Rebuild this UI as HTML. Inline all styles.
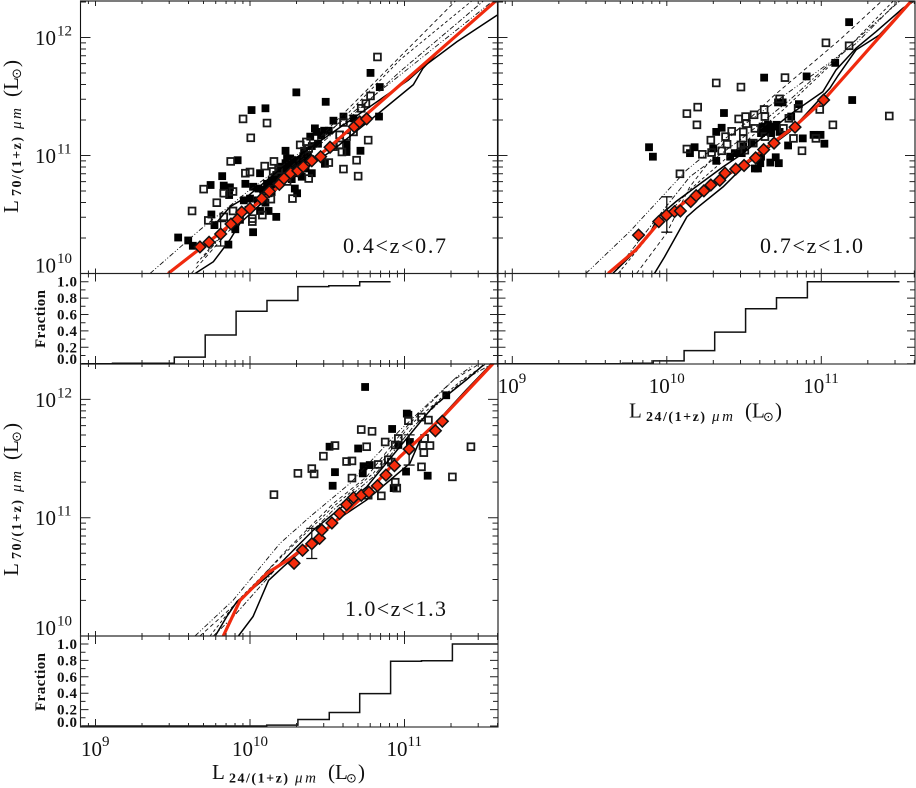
<!DOCTYPE html>
<html lang="en">
<head>
<meta charset="utf-8">
<title>L70 vs L24 by redshift</title>
<style>
html,body{margin:0;padding:0;background:#fff;}
svg{display:block;}
text{font-family:"Liberation Serif","DejaVu Serif",serif;fill:#111;}
.sun{font-family:"DejaVu Sans","Liberation Sans",sans-serif;}
.frac{font-weight:bold;font-size:15px;}
</style>
</head>
<body>
<svg id="chart" xmlns="http://www.w3.org/2000/svg" width="916" height="788" viewBox="0 0 916 788">
  <defs>
    <clipPath id="clip-a"><rect x="80.5" y="1" width="417.5" height="272.5"/></clipPath>
    <clipPath id="clip-b"><rect x="497.5" y="1" width="417.5" height="272.5"/></clipPath>
    <clipPath id="clip-c"><rect x="80.5" y="364" width="417.5" height="272"/></clipPath>
  </defs>
  <g id="layer"></g>

  <g transform="translate(18,213) rotate(-90)">
    <text font-size="21" x="0" y="0">L</text>
    <text font-size="14" font-weight="bold" x="17" y="3" textLength="59" lengthAdjust="spacing">70/(1+z)</text>
    <text font-size="15" font-style="italic" x="84" y="3" textLength="21" lengthAdjust="spacing">μm</text>
    <text font-size="21" x="116" y="0">(L</text>
    <text class="sun" font-size="13" x="134" y="3">⊙</text>
    <text font-size="21" x="146" y="0">)</text>
  </g>
  <g transform="translate(18,576) rotate(-90)">
    <text font-size="21" x="0" y="0">L</text>
    <text font-size="14" font-weight="bold" x="17" y="3" textLength="59" lengthAdjust="spacing">70/(1+z)</text>
    <text font-size="15" font-style="italic" x="84" y="3" textLength="21" lengthAdjust="spacing">μm</text>
    <text font-size="21" x="116" y="0">(L</text>
    <text class="sun" font-size="13" x="134" y="3">⊙</text>
    <text font-size="21" x="146" y="0">)</text>
  </g>
  <g transform="translate(212,779)">
    <text font-size="21" x="0" y="0">L</text>
    <text font-size="14" font-weight="bold" x="17" y="3.5" textLength="59" lengthAdjust="spacing">24/(1+z)</text>
    <text font-size="15" font-style="italic" x="83" y="3.5" textLength="21" lengthAdjust="spacing">μm</text>
    <text font-size="21" x="116" y="0">(L</text>
    <text class="sun" font-size="13" x="134" y="3.5">⊙</text>
    <text font-size="21" x="146" y="0">)</text>
  </g>
  <g transform="translate(629,417.5)">
    <text font-size="21" x="0" y="0">L</text>
    <text font-size="14" font-weight="bold" x="17" y="3.5" textLength="59" lengthAdjust="spacing">24/(1+z)</text>
    <text font-size="15" font-style="italic" x="83" y="3.5" textLength="21" lengthAdjust="spacing">μm</text>
    <text font-size="21" x="116" y="0">(L</text>
    <text class="sun" font-size="13" x="134" y="3.5">⊙</text>
    <text font-size="21" x="146" y="0">)</text>
  </g>

  <text font-size="22" x="343" y="253" textLength="103" lengthAdjust="spacing">0.4&lt;z&lt;0.7</text>
  <text font-size="22" x="760" y="253" textLength="103" lengthAdjust="spacing">0.7&lt;z&lt;1.0</text>
  <text font-size="22" x="345" y="616" textLength="101" lengthAdjust="spacing">1.0&lt;z&lt;1.3</text>

  <text class="frac" text-anchor="middle" textLength="58" transform="translate(45,319) rotate(-90)">Fraction</text>
  <text class="frac" text-anchor="middle" textLength="58" transform="translate(45,682) rotate(-90)">Fraction</text>
</svg>

<script>
// All values are log10 of luminosity (Lsun) or plain fraction.
const xMajorLabels = [9, 10, 11];
const yMajorLabels = [10, 11, 12];
const fractionLabels = ['0.0', '0.2', '0.4', '0.6', '0.8', '1.0'];
const fractionTicks = [0, 0.2, 0.4, 0.6, 0.8, 1.0];

// ---- Panel A: 0.4<z<0.7 ----
const aFilledX = [10.30,10.49,10.10,10.01,10.78,10.84,10.54,10.835,9.92,9.82,9.745,9.535,9.60,9.63,9.86,10.02,10.17,9.75,9.77,9.905,9.83,9.865,9.87,9.97,10.065,10.23,10.23,10.42,10.48,10.51,10.605,10.67,10.715,10.625,10.625,10.485,10.305,10.29,10.065,10.12,9.96,10.00,10.02,10.055,10.11,10.14,10.17,10.26,10.31,10.345,10.375,10.40,10.335,10.28,10.30,10.24,10.205,10.225,10.26,10.32,10.365,10.39,10.43,10.15,10.085,10.14,9.99,9.935,9.90,10.18,10.22,10.27,10.30,10.33,10.36,10.12,10.05,10.10,10.28,10.20,10.39,10.44,10.46,10.40,10.35,10.25];
const aFilledY = [11.535,11.455,11.40,11.385,11.70,11.58,11.295,11.33,10.96,10.825,10.75,10.305,10.28,10.235,10.245,10.35,10.48,10.50,10.41,10.375,10.745,10.665,10.73,10.76,10.85,11.04,10.935,11.23,11.21,11.21,11.33,11.315,11.04,11.03,11.09,10.93,10.68,10.72,10.53,10.53,10.62,10.635,10.735,10.72,10.76,10.79,10.835,10.91,10.935,10.99,11.005,10.85,10.82,10.85,10.96,10.975,10.905,10.875,10.975,10.905,10.935,11.16,11.20,10.735,10.71,10.69,10.54,10.455,10.425,10.80,10.83,10.80,10.88,10.93,10.89,10.68,10.62,10.60,10.92,10.87,10.97,11.10,11.17,11.08,11.04,10.96];
const aOpenX = [10.825,10.72,10.78,10.75,9.955,10.11,10.005,9.875,10.00,9.97,10.095,10.155,10.765,10.69,10.70,10.605,10.38,10.275,10.135,10.08,10.015,10.015,9.89,9.83,9.785,9.70,9.625,9.73,9.83,9.89,10.605,10.58,10.595,10.51,10.58,10.625,10.67,10.325,10.365,10.38,10.54,10.15,10.185,10.24];
const aOpenY = [11.835,11.40,11.505,11.44,11.31,11.275,11.15,10.95,10.86,10.85,10.91,10.95,11.13,10.96,10.825,10.885,10.805,10.635,10.63,10.495,10.44,10.465,10.695,10.68,10.60,10.715,10.53,10.45,10.48,10.53,11.28,11.09,11.03,10.94,11.175,11.16,11.20,11.09,11.115,11.06,11.075,10.865,10.88,10.78];
const aMeanX = [9.676,9.735,9.81,9.877,9.92,9.946,10.00,10.076,10.125,10.19,10.22,10.263,10.31,10.345,10.40,10.457,10.518,10.675,10.71,10.755];
const aMeanY = [10.225,10.265,10.335,10.42,10.46,10.52,10.55,10.635,10.695,10.755,10.805,10.85,10.87,10.905,10.955,10.99,11.07,11.245,11.285,11.31];
const aFitX = [9.47,9.676,10.0,10.518,10.755,11.10,11.60];
const aFitY = [10.0,10.21,10.545,11.075,11.35,11.745,12.32];
const aUpperX = [9.763,9.87,9.98,10.215,10.54,11.025,11.11,11.34,11.60];
const aUpperY = [10.40,10.565,10.65,10.905,11.20,11.64,11.74,11.965,12.19];
const aLowerX = [9.645,9.763,9.87,9.935,10.215,10.54,10.82,11.057,11.12,11.25,11.40,11.60];
const aLowerY = [10.0,10.10,10.285,10.425,10.765,11.05,11.345,11.60,11.74,11.92,12.09,12.32];
const aModel1X = [9.353,9.676,10.0,10.54,10.97,11.553];
const aModel1Y = [10.0,10.37,10.71,11.235,11.68,12.29];
const aModel2X = [9.62,9.89,10.54,11.338];
const aModel2Y = [10.0,10.40,11.27,12.32];
const aModel3X = [9.655,9.935,10.54,10.97,11.445];
const aModel3Y = [10.085,10.51,11.23,11.81,12.32];
const aModel4X = [9.70,9.98,10.54,10.97,11.52];
const aModel4Y = [10.14,10.57,11.19,11.71,12.32];
const aErrX = [9.81];
const aErrLo = [10.233];
const aErrHi = [10.44];
const aBinEdges = [8.91,9.11,9.51,9.71,9.91,10.11,10.31,10.51,10.71,10.91];
const aFractions = [0,0.005,0.08,0.35,0.64,0.77,0.94,0.95,1.0];

// ---- Panel B: 0.7<z<1.0 ----
const bFilledX = [11.18,11.09,10.905,10.63,11.20,10.37,10.72,10.75,10.855,9.885,9.91,10.15,10.18,10.32,10.355,10.32,11.02,10.995,10.95,10.88,10.785,10.705,10.725,10.67,10.57,10.59,10.605,10.61,10.41,10.44,10.30,10.62,10.655,10.69,10.71,10.675,10.645,10.495,10.55,10.61,10.485,10.73,10.805];
const bFilledY = [12.13,11.785,11.67,11.66,11.47,11.36,11.45,11.45,11.435,11.07,10.99,11.02,11.07,10.955,11.235,11.20,11.10,11.175,11.175,11.145,11.085,10.985,10.935,10.94,10.89,10.89,10.935,10.99,10.99,11.02,11.06,11.245,11.26,11.245,11.26,11.19,11.20,11.075,11.105,11.19,11.02,11.20,11.33];
const bOpenX = [11.03,11.18,10.765,10.32,10.48,10.73,10.20,10.13,10.195,10.465,10.51,10.565,10.63,10.635,10.99,11.44,11.075,10.79,10.42,10.285,10.38,10.39,10.13,10.23,10.29,10.355,10.085,10.875,10.965,10.82,10.495,10.495,10.48,10.57,10.515,10.635,10.755,10.85,10.56,10.505];
const bOpenY = [11.955,11.93,11.66,11.615,11.58,11.48,11.41,11.355,11.26,11.31,11.33,11.345,11.39,11.33,11.39,11.335,11.26,11.315,11.205,11.13,11.16,11.095,11.055,11.01,11.025,11.04,10.845,11.04,11.145,11.145,11.20,11.145,11.09,11.23,11.27,11.16,11.23,11.40,11.105,11.045];
const bMeanX = [9.817,9.948,9.998,10.05,10.088,10.155,10.19,10.24,10.285,10.343,10.377,10.446,10.50,10.575,10.627,10.694,10.83,11.015];
const bMeanY = [10.325,10.44,10.495,10.525,10.53,10.61,10.66,10.70,10.75,10.79,10.85,10.885,10.915,10.98,11.05,11.105,11.24,11.47];
const bFitX = [9.62,9.80,9.955,10.15,10.495,10.84,11.015,11.59];
const bFitY = [10.0,10.20,10.44,10.64,10.92,11.26,11.47,12.32];
const bUpperX = [9.65,9.805,9.89,9.945,10.06,10.365,10.495,10.795,11.01,11.095,11.225,11.355,11.53,11.59];
const bUpperY = [10.0,10.2,10.34,10.48,10.61,10.905,11.02,11.345,11.54,11.725,11.91,12.05,12.25,12.30];
const bLowerX = [9.92,9.985,10.13,10.19,10.365,10.495,10.795,11.055,11.11,11.225,11.375,11.59];
const bLowerY = [10.0,10.14,10.48,10.55,10.735,10.905,11.20,11.57,11.68,11.895,12.02,12.32];
const bModel1X = [9.476,9.76,10.127,10.364,10.687,11.226,11.506];
const bModel1Y = [10.0,10.355,10.875,11.13,11.44,11.95,12.32];
const bModel2X = [9.804,9.998,10.149,10.364,10.687,11.119,11.40];
const bModel2Y = [10.0,10.34,10.735,11.10,11.50,11.98,12.32];
const bModel3X = [9.685,9.933,10.149,10.472,10.752,11.119,11.474];
const bModel3Y = [10.0,10.395,10.71,11.075,11.385,11.84,12.32];
const bModel4X = [9.653,9.825,10.149,10.472,10.795,11.226,11.517];
const bModel4Y = [10.0,10.285,10.82,11.13,11.47,11.98,12.32];
const bErrX = [10.0];
const bErrLo = [10.35];
const bErrHi = [10.65];
const bBinEdges = [8.91,9.713,9.912,10.112,10.31,10.51,10.71,10.91,11.506];
const bFractions = [0,0.005,0.035,0.16,0.385,0.67,0.805,1.0];

// ---- Panel C: 1.0<z<1.3 ----
const cFilledX = [10.745,11.27,11.015,11.025,10.92,10.515,10.70,10.55,10.535,10.735,10.73,10.775,10.96,11.035,11.01,11.15,10.93];
const cFilledY = [12.105,12.035,11.88,11.87,11.75,11.60,11.585,11.385,11.27,11.435,11.375,11.445,11.615,11.64,11.39,11.355,11.25];
const cOpenX = [10.155,10.31,10.40,10.415,10.475,10.55,10.72,10.79,10.755,10.625,10.66,10.66,10.83,10.875,10.895,10.915,10.94,10.96,11.025,11.11,11.155,11.13,11.12,11.165,11.125,11.11,11.43,11.31,10.94,10.95,10.85,10.765];
const cOpenY = [11.195,11.375,11.415,11.37,11.52,11.61,11.745,11.73,11.60,11.475,11.48,11.335,11.45,11.64,11.49,11.47,11.615,11.67,11.82,11.85,11.825,11.67,11.61,11.61,11.55,11.43,11.60,11.345,11.30,11.25,11.185,11.19];
const cMeanX = [10.285,10.34,10.40,10.45,10.465,10.53,10.58,10.625,10.67,10.72,10.77,10.825,10.88,10.935,11.03,11.20,11.245];
const cMeanY = [10.615,10.725,10.78,10.825,10.895,10.955,11.035,11.11,11.17,11.19,11.215,11.27,11.36,11.44,11.58,11.735,11.815];
const cFitX = [9.827,9.935,10.11,10.26,10.455,10.755,10.97,11.25,11.575];
const cFitY = [10.0,10.30,10.53,10.655,10.855,11.205,11.515,11.855,12.305];
const cUpperX = [9.775,9.85,9.915,10.11,10.41,10.755,10.97,11.185,11.40,11.51];
const cUpperY = [10.0,10.165,10.29,10.50,10.895,11.26,11.60,11.94,12.165,12.29];
const cLowerX = [9.925,10.02,10.12,10.215,10.56,10.755,11.035,11.10,11.21,11.40,11.565];
const cLowerY = [10.0,10.165,10.47,10.585,10.98,11.15,11.46,11.655,11.81,12.08,12.305];
const cModel1X = [9.644,9.892,10.194,10.388,10.647,10.971,11.338,11.445];
const cModel1Y = [10.0,10.304,10.783,11.008,11.29,11.74,12.19,12.29];
const cModel2X = [9.676,9.935,10.237,10.539,10.755,11.014,11.316,11.489];
const cModel2Y = [10.0,10.304,10.727,11.12,11.346,11.77,12.163,12.304];
const cModel3X = [9.741,9.924,10.237,10.539,10.798,11.036,11.359,11.532];
const cModel3Y = [10.0,10.304,10.713,11.093,11.375,11.783,12.15,12.304];
const cModel4X = [9.763,9.892,10.237,10.539,10.798,11.057,11.38,11.553];
const cModel4Y = [10.0,10.163,10.67,11.065,11.346,11.77,12.163,12.29];
const cErrX = [10.40,11.03];
const cErrLo = [10.655,11.445];
const cErrHi = [10.91,11.70];
const cBinEdges = [8.91,10.108,10.31,10.513,10.71,10.91,11.11,11.31,11.605];
const cFractions = [0,0.01,0.08,0.165,0.395,0.79,0.795,1.0];

const SVGNS = 'http://www.w3.org/2000/svg';
const layer = document.getElementById('layer');

function make(parent, tag, attrs) {
  const node = document.createElementNS(SVGNS, tag);
  for (const k in attrs) node.setAttribute(k, attrs[k]);
  parent.appendChild(node);
  return node;
}

function buildPanel(p) {
  const xs = v => p.x9 + (v - 9) * 154.5;
  const ys = v => p.mainBottom - (v - 10) * p.decade;
  const fs = v => p.frac0 - v * 82;
  const pathOf = (xa, ya) => xa.map((v, i) => (i ? 'L' : 'M') + xs(v).toFixed(2) + ' ' + ys(ya[i]).toFixed(2)).join(' ');

  const group = make(layer, 'g', {});
  
  

  const plot = make(group, 'g', { 'clip-path': 'url(#' + p.clip + ')' });
  
  

  p.filledX.forEach((v, i) => {
    const m = make(plot, 'rect', { x: xs(v) - 3.9, y: ys(p.filledY[i]) - 3.9, width: 7.8, height: 7.8, fill: '#000' });
    
    
  });
  p.openX.forEach((v, i) => {
    const m = make(plot, 'rect', { x: xs(v) - 3.4, y: ys(p.openY[i]) - 3.4, width: 6.8, height: 6.8, fill: 'none', stroke: '#1a1a1a', 'stroke-width': 1.8 });
    
    
  });

  const dashes = ['5 2 1 2 1 2', '4 3', '3 2.5', '5 2 1.5 2'];
  p.models.forEach((mdl, i) => {
    const l = make(plot, 'path', { d: pathOf(mdl[0], mdl[1]), fill: 'none', stroke: '#111', 'stroke-width': 0.9, 'stroke-dasharray': dashes[i] });
    
    
  });

  const up = make(plot, 'path', { d: pathOf(p.upperX, p.upperY), fill: 'none', stroke: '#000', 'stroke-width': 1.5 });
  
  
  const lo = make(plot, 'path', { d: pathOf(p.lowerX, p.lowerY), fill: 'none', stroke: '#000', 'stroke-width': 1.5 });
  
  

  const fit = make(plot, 'path', { d: pathOf(p.fitX, p.fitY), fill: 'none', stroke: '#f02a0e', 'stroke-width': 3.2 });
  
  

  p.errX.forEach((v, i) => {
    const x = xs(v), a = ys(p.errLo[i]), b = ys(p.errHi[i]);
    const e = make(plot, 'path', { d: `M${x - 5.5} ${a}H${x + 5.5}M${x} ${a}V${b}M${x - 5.5} ${b}H${x + 5.5}`, fill: 'none', stroke: '#111', 'stroke-width': 1.3 });
    
    
  });

  p.meanX.forEach((v, i) => {
    const x = xs(v), y = ys(p.meanY[i]), r = 5.8;
    const d = make(plot, 'path', { d: `M${x - r} ${y}L${x} ${y - r}L${x + r} ${y}L${x} ${y + r}Z`, fill: '#f52c0c', stroke: '#111', 'stroke-width': 1.5 });
    
    
  });

  // Fraction histogram
  let hist = '';
  p.fractions.forEach((f, i) => {
    hist += (i ? 'L' : 'M') + xs(p.edges[i]).toFixed(2) + ' ' + fs(f).toFixed(2) + 'L' + xs(p.edges[i + 1]).toFixed(2) + ' ' + fs(f).toFixed(2);
  });
  const h = make(group, 'path', { d: hist, fill: 'none', stroke: '#111', 'stroke-width': 1.5 });
  
  

  // Frames
  const mainFrame = make(group, 'rect', { x: p.left, y: p.mainTop, width: p.right - p.left, height: p.mainBottom - p.mainTop, fill: 'none', stroke: '#111', 'stroke-width': 1.1 });
  
  
  const fracFrame = make(group, 'rect', { x: p.left, y: p.mainBottom, width: p.right - p.left, height: p.fracBottom - p.mainBottom, fill: 'none', stroke: '#222', 'stroke-width': 1.1 });
  
  

  // Ticks
  let tick = '';
  const minL = 8.9, maxL = 11.61;
  for (let d = 8; d <= 11; d++) {
    for (let m = 1; m <= 9; m++) {
      const lv = d + Math.log10(m);
      if (lv < minL || lv > maxL) continue;
      const x = xs(lv).toFixed(2);
      const mj = m === 1;
      const a = mj ? 5 : 3, b = mj ? 8 : 4;
      tick += `M${x} ${p.mainTop}v${a}M${x} ${p.mainBottom}v${-a}M${x} ${p.mainBottom}v${b}M${x} ${p.fracBottom}v${-b}`;
    }
  }
  for (let d = 10; d <= 12; d++) {
    for (let m = 1; m <= 9; m++) {
      const lv = d + Math.log10(m);
      const y = ys(lv);
      if (y < p.mainTop || y > p.mainBottom) continue;
      const l = m === 1 ? 10 : 5.5;
      tick += `M${p.left} ${y.toFixed(2)}h${l}M${p.right} ${y.toFixed(2)}h${-l}`;
    }
  }
  for (let k = 0; k <= 10; k++) {
    const y = fs(k / 10).toFixed(2);
    const l = k % 2 === 0 ? 8 : 5;
    tick += `M${p.left} ${y}h${l}M${p.right} ${y}h${-l}`;
  }
  const t = make(group, 'path', { d: tick, fill: 'none', stroke: '#222', 'stroke-width': 1 });
  
  

  // Tick labels
  if (p.showY) {
    yMajorLabels.forEach(e => {
      const base = Math.min(p.mainBottom - 1, ys(e) + 7.4);
      const a = make(group, 'text', { x: 35, y: base, 'font-size': 21 });
      a.textContent = '10';
      
      
      const b = make(group, 'text', { x: 57, y: base - 9.5, 'font-size': 15 });
      b.textContent = String(e);
      
      
    });
    fractionTicks.forEach((f, i) => {
      const base = Math.min(p.fracBottom, fs(f) + 5);
      const a = make(group, 'text', { class: 'frac', x: 57, y: base, textLength: 20 });
      a.textContent = fractionLabels[i];
      
      
    });
  }
  if (p.showX) {
    xMajorLabels.forEach(e => {
      const x0 = xs(e) - (e === 9 ? 14.5 : 18);
      const a = make(group, 'text', { x: x0, y: p.xLabelBase, 'font-size': 21 });
      a.textContent = '10';
      
      
      const b = make(group, 'text', { x: x0 + 21, y: p.xLabelBase - 10, 'font-size': 15 });
      b.textContent = String(e);
      
      
    });
  }
}

buildPanel({
  name: 'low-redshift', clip: 'clip-a', left: 80.5, right: 498, x9: 95.5, mainTop: 1, mainBottom: 273.5, fracBottom: 364, frac0: 363.7, decade: 118, showY: true, showX: false,
  filledX: aFilledX, filledY: aFilledY, openX: aOpenX, openY: aOpenY, meanX: aMeanX, meanY: aMeanY,
  fitX: aFitX, fitY: aFitY, upperX: aUpperX, upperY: aUpperY, lowerX: aLowerX, lowerY: aLowerY,
  models: [[aModel1X, aModel1Y], [aModel2X, aModel2Y], [aModel3X, aModel3Y], [aModel4X, aModel4Y]],
  errX: aErrX, errLo: aErrLo, errHi: aErrHi, edges: aBinEdges, fractions: aFractions
});
buildPanel({
  name: 'mid-redshift', clip: 'clip-b', left: 497.5, right: 915, x9: 512.3, mainTop: 1, mainBottom: 273.5, fracBottom: 364, frac0: 363.7, decade: 118, showY: false, showX: true, xLabelBase: 393,
  filledX: bFilledX, filledY: bFilledY, openX: bOpenX, openY: bOpenY, meanX: bMeanX, meanY: bMeanY,
  fitX: bFitX, fitY: bFitY, upperX: bUpperX, upperY: bUpperY, lowerX: bLowerX, lowerY: bLowerY,
  models: [[bModel1X, bModel1Y], [bModel2X, bModel2Y], [bModel3X, bModel3Y], [bModel4X, bModel4Y]],
  errX: bErrX, errLo: bErrLo, errHi: bErrHi, edges: bBinEdges, fractions: bFractions
});
buildPanel({
  name: 'high-redshift', clip: 'clip-c', left: 80.5, right: 498, x9: 95.5, mainTop: 364, mainBottom: 636, fracBottom: 727, frac0: 726, decade: 118.3, showY: true, showX: true, xLabelBase: 756,
  filledX: cFilledX, filledY: cFilledY, openX: cOpenX, openY: cOpenY, meanX: cMeanX, meanY: cMeanY,
  fitX: cFitX, fitY: cFitY, upperX: cUpperX, upperY: cUpperY, lowerX: cLowerX, lowerY: cLowerY,
  models: [[cModel1X, cModel1Y], [cModel2X, cModel2Y], [cModel3X, cModel3Y], [cModel4X, cModel4Y]],
  errX: cErrX, errLo: cErrLo, errHi: cErrHi, edges: cBinEdges, fractions: cFractions
});
</script>
</body>
</html>
